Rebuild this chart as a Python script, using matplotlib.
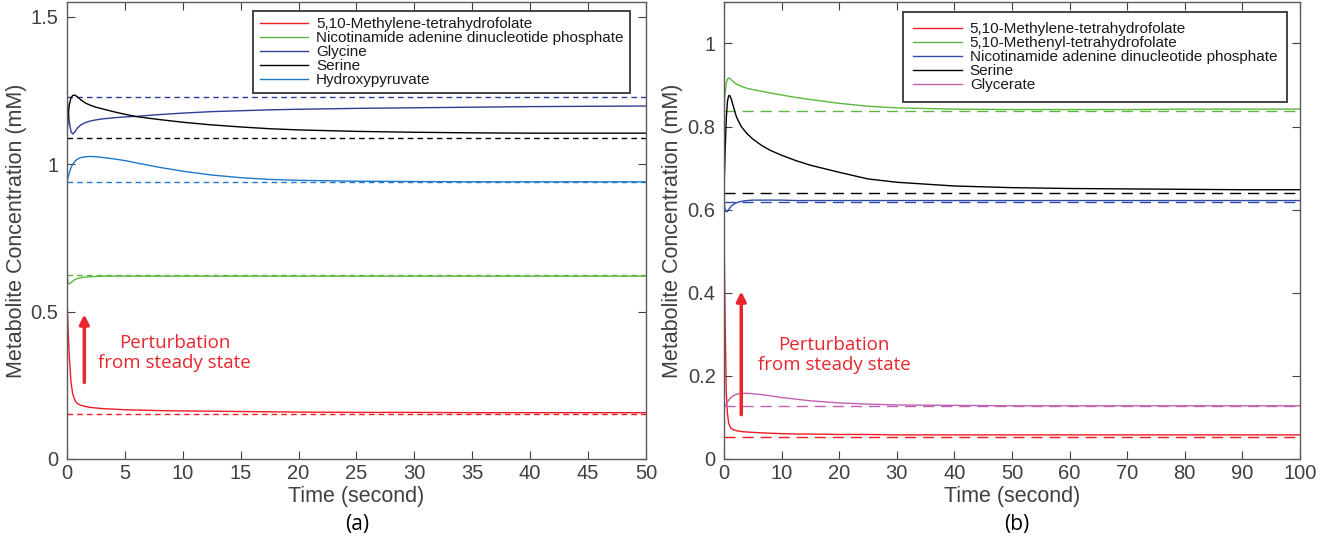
import matplotlib
matplotlib.use("Agg")
import matplotlib.pyplot as plt

plt.rcParams.update({'font.family': ['Liberation Sans', 'DejaVu Sans']})

# ---- panel (a) data ----
t_a = [0, 0.1, 0.2, 0.35, 0.5, 0.7, 0.9, 1.2, 1.6, 2, 2.5, 3, 4, 5, 6, 8, 10,
       12.5, 15, 17.5, 20, 25, 30, 35, 40, 45, 50]
mthf_a = [0.555, 0.44, 0.35, 0.26, 0.22, 0.198, 0.188, 0.182, 0.178, 0.175, 0.173,
          0.171, 0.169, 0.167, 0.166, 0.164, 0.163, 0.162, 0.161, 0.160, 0.159,
          0.158, 0.158, 0.157, 0.157, 0.157, 0.157]
nadph_a = [0.625, 0.596, 0.594, 0.598, 0.603, 0.609, 0.612, 0.615, 0.617, 0.618,
           0.619, 0.620, 0.620, 0.620, 0.620, 0.620, 0.620, 0.620, 0.620, 0.620,
           0.620, 0.620, 0.620, 0.620, 0.620, 0.620, 0.620]
gly_a = [1.229, 1.19, 1.145, 1.11, 1.102, 1.11, 1.122, 1.133, 1.141, 1.146, 1.150,
         1.153, 1.157, 1.160, 1.162, 1.168, 1.173, 1.178, 1.181, 1.184, 1.186,
         1.189, 1.191, 1.193, 1.195, 1.196, 1.197]
ser_a = [1.09, 1.16, 1.20, 1.225, 1.233, 1.234, 1.228, 1.218, 1.207, 1.200, 1.193,
         1.188, 1.178, 1.169, 1.161, 1.151, 1.142, 1.133, 1.126, 1.120, 1.116,
         1.111, 1.108, 1.106, 1.105, 1.105, 1.105]
hpyr_a = [0.94, 0.955, 0.97, 0.988, 1.0, 1.01, 1.017, 1.022, 1.025, 1.026, 1.025,
          1.023, 1.018, 1.012, 1.004, 0.989, 0.976, 0.963, 0.954, 0.948, 0.945,
          0.942, 0.941, 0.940, 0.940, 0.940, 0.940]
steady_a = [0.152, 0.625, 1.229, 1.090, 0.940]
names_a = ["5,10-Methylene-tetrahydrofolate", "Nicotinamide adenine dinucleotide phosphate",
           "Glycine", "Serine", "Hydroxypyruvate"]
colors_a = ["#ee1c25", "#5cb83c", "#2e3d98", "#000000", "#1f78c8"]

# ---- panel (b) data ----
t_b = [0, 0.2, 0.4, 0.6, 0.8, 1, 1.3, 1.7, 2.2, 3, 4, 5, 6.5, 8, 10, 12.5, 15,
       20, 25, 30, 40, 50, 60, 70, 80, 90, 100]
mthf_b = [0.55, 0.33, 0.16, 0.11, 0.088, 0.079, 0.073, 0.070, 0.068, 0.066, 0.065,
          0.064, 0.063, 0.062, 0.061, 0.060, 0.060, 0.059, 0.059, 0.058, 0.058,
          0.058, 0.058, 0.058, 0.058, 0.058, 0.058]
methf_b = [0.84, 0.88, 0.905, 0.914, 0.917, 0.916, 0.912, 0.907, 0.902, 0.897, 0.892,
           0.889, 0.885, 0.881, 0.876, 0.870, 0.865, 0.856, 0.849, 0.845, 0.842,
           0.841, 0.841, 0.841, 0.842, 0.842, 0.842]
nadph_b = [0.62, 0.60, 0.595, 0.596, 0.60, 0.604, 0.609, 0.613, 0.617, 0.620, 0.622,
           0.623, 0.623, 0.623, 0.623, 0.622, 0.622, 0.622, 0.622, 0.622, 0.622,
           0.622, 0.622, 0.622, 0.622, 0.622, 0.622]
ser_b = [0.64, 0.74, 0.82, 0.86, 0.874, 0.875, 0.865, 0.845, 0.822, 0.800, 0.783,
         0.770, 0.755, 0.743, 0.731, 0.718, 0.707, 0.690, 0.674, 0.666, 0.657,
         0.653, 0.651, 0.650, 0.649, 0.648, 0.648]
glyc_b = [0.128, 0.130, 0.133, 0.137, 0.141, 0.145, 0.149, 0.153, 0.156, 0.158,
          0.158, 0.157, 0.155, 0.152, 0.148, 0.144, 0.140, 0.135, 0.132, 0.130,
          0.129, 0.128, 0.128, 0.128, 0.128, 0.128, 0.128]
steady_b = [0.054, 0.8386, 0.619, 0.639, 0.128]
names_b = ["5,10-Methylene-tetrahydrofolate", "5,10-Methenyl-tetrahydrofolate",
           "Nicotinamide adenine dinucleotide phosphate", "Serine", "Glycerate"]
colors_b = ["#ee1c25", "#5cb83c", "#2e4aa8", "#000000", "#c060b0"]

red_txt = "#e8262d"
grey = "#404040"

fig = plt.figure(figsize=(13.36, 5.51), dpi=100)
ax_a = fig.add_axes([0.0501, 0.167, 0.4334, 0.8295])
ax_b = fig.add_axes([0.5419, 0.167, 0.4311, 0.8295])


def style_axes(ax, xlim, ylim, xticks, yticks, yticklabels):
    ax.set_xlim(xlim)
    ax.set_ylim(ylim)
    ax.set_xticks(xticks)
    ax.set_yticks(yticks)
    ax.set_yticklabels(yticklabels)
    ax.tick_params(direction='in', top=True, right=True, labelsize=14.5,
                   colors=grey, length=6, width=0.8)
    ax.tick_params(axis='y', pad=6)
    for s in ax.spines.values():
        s.set_color("#5a5a5a")
        s.set_linewidth(1.0)
    ax.set_xlabel("Time (second)", fontsize=15.5, color=grey, labelpad=2)
    ax.set_ylabel("Metabolite Concentration (mM)", fontsize=15.5, color=grey, labelpad=3)


def add_legend(ax, anchor, pad):
    leg = ax.legend(loc='upper right', bbox_to_anchor=anchor, fontsize=11,
                    handlelength=3.2, handletextpad=0.5, labelspacing=0.0,
                    borderpad=pad, borderaxespad=0, fancybox=False, framealpha=1)
    leg.get_frame().set_edgecolor("#444444")
    leg.get_frame().set_linewidth(1.4)
    for text in leg.get_texts():
        text.set_color("#1a1a1a")


# panel a
series_a = [mthf_a, nadph_a, gly_a, ser_a, hpyr_a]
for y, ss, c, n in zip(series_a, steady_a, colors_a, names_a):
    ax_a.plot(t_a, y, color=c, lw=1.0, label=n)
    ax_a.plot([0, 50], [ss, ss], color=c, lw=1.0, linestyle=(0, (4, 3)))
style_axes(ax_a, (0, 50), (0, 1.55), range(0, 51, 5), [0, 0.5, 1, 1.5],
           ["0", "0.5", "1", "1.5"])
add_legend(ax_a, (0.972, 0.980), 0.4)
ax_a.annotate("", xy=(1.5, 0.50), xytext=(1.5, 0.25),
              arrowprops=dict(arrowstyle='-|>', color=red_txt, lw=2.5, mutation_scale=14))
ax_a.text(9.3, 0.36, "Perturbation\nfrom steady state", color=red_txt, fontsize=13.5,
          family=['Open Sans', 'DejaVu Sans'], ha='center', va='center', linespacing=1.1)

# panel b
series_b = [mthf_b, methf_b, nadph_b, ser_b, glyc_b]
for y, ss, c, n in zip(series_b, steady_b, colors_b, names_b):
    ax_b.plot(t_b, y, color=c, lw=1.0, label=n)
    ax_b.plot([0, 100], [ss, ss], color=c, lw=1.0, linestyle=(0, (8, 5)))
style_axes(ax_b, (0, 100), (0, 1.1), range(0, 101, 10), [0, 0.2, 0.4, 0.6, 0.8, 1],
           ["0", "0.2", "0.4", "0.6", "0.8", "1"])
add_legend(ax_b, (0.978, 0.978), 0.65)
ax_b.annotate("", xy=(3, 0.41), xytext=(3, 0.10),
              arrowprops=dict(arrowstyle='-|>', color=red_txt, lw=2.5, mutation_scale=14))
ax_b.text(19.1, 0.25, "Perturbation\nfrom steady state", color=red_txt, fontsize=13.5,
          family=['Open Sans', 'DejaVu Sans'], ha='center', va='center', linespacing=1.1)

fig.text(0.267, 0.048, "(a)", fontsize=15, ha='center', va='center',
         family=['Open Sans', 'DejaVu Sans'])
fig.text(0.761, 0.048, "(b)", fontsize=15, ha='center', va='center',
         family=['Open Sans', 'DejaVu Sans'])

fig.savefig("out.png", dpi=100, facecolor='white')
